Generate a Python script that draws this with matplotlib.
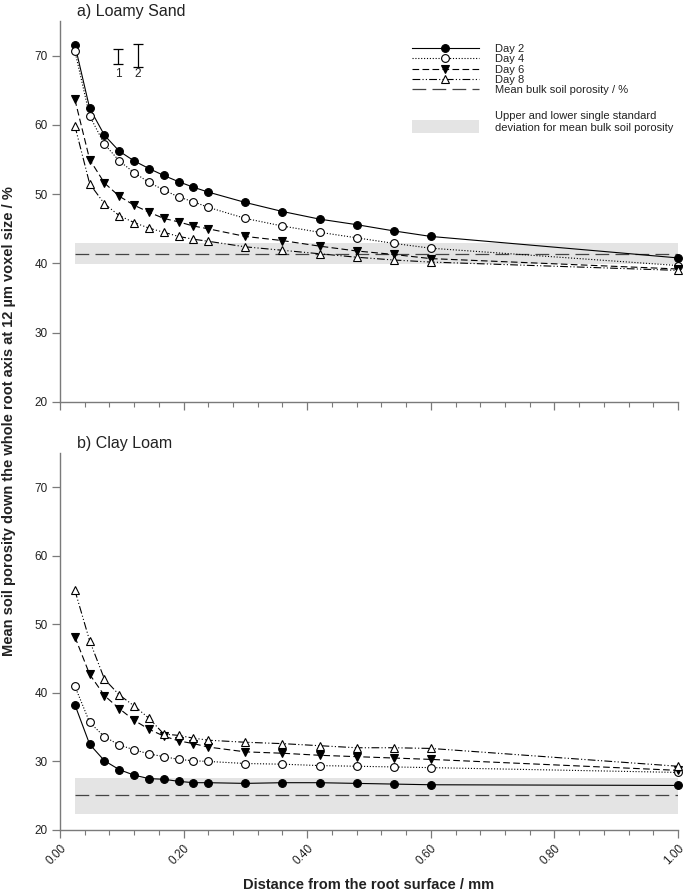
import matplotlib
matplotlib.use("Agg")
import matplotlib.pyplot as plt
from matplotlib.lines import Line2D
from matplotlib.patches import Patch, Rectangle
from matplotlib.legend_handler import HandlerPatch
import numpy as np

plt.rcParams['font.family'] = ['Liberation Sans', 'DejaVu Sans']

# distance from root surface (mm)
dist = [0.024, 0.048, 0.072, 0.096, 0.12, 0.144, 0.168, 0.192, 0.216, 0.24,
        0.30, 0.36, 0.42, 0.48, 0.54, 0.60, 1.00]

# a) Loamy Sand
ls_day2 = [71.6, 62.4, 58.5, 56.2, 54.8, 53.7, 52.7, 51.8, 51.0, 50.3, 48.8, 47.5, 46.4, 45.6, 44.7, 43.9, 40.8]
ls_day4 = [70.7, 61.3, 57.2, 54.8, 53.1, 51.7, 50.6, 49.6, 48.9, 48.1, 46.5, 45.4, 44.5, 43.7, 42.9, 42.2, 39.7]
ls_day6 = [63.7, 55.0, 51.6, 49.7, 48.4, 47.4, 46.5, 46.0, 45.4, 45.0, 43.9, 43.3, 42.5, 41.8, 41.3, 40.7, 39.2]
ls_day8 = [59.9, 51.5, 48.6, 46.9, 45.9, 45.1, 44.5, 43.9, 43.5, 43.2, 42.4, 41.9, 41.4, 40.9, 40.5, 40.2, 39.0]
ls_bulk_mean = 41.4
ls_bulk_sd = [39.9, 43.0]

# b) Clay Loam
cl_day2 = [38.3, 32.5, 30.1, 28.8, 28.0, 27.5, 27.4, 27.1, 26.9, 26.9, 26.8, 26.9, 26.9, 26.8, 26.7, 26.6, 26.5]
cl_day4 = [41.0, 35.7, 33.6, 32.4, 31.7, 31.1, 30.7, 30.3, 30.1, 30.0, 29.7, 29.6, 29.4, 29.3, 29.2, 29.1, 28.4]
cl_day6 = [48.2, 42.7, 39.6, 37.7, 36.0, 34.7, 33.7, 33.0, 32.6, 32.1, 31.4, 31.2, 30.9, 30.7, 30.5, 30.3, 28.7]
cl_day8 = [55.0, 47.6, 42.0, 39.7, 38.1, 36.3, 34.0, 33.8, 33.4, 33.1, 32.8, 32.6, 32.3, 32.0, 32.0, 31.9, 29.3]
cl_bulk_mean = 25.1
cl_bulk_sd = [22.3, 27.6]

# the two bars in the top-left corner (labelled 1 and 2)
bar_labels = ['1', '2']
bar_x = [0.094, 0.126]
bar_mid = [69.9, 70.0]
bar_half = [1.1, 1.7]

day_labels = ['Day 2', 'Day 4', 'Day 6', 'Day 8']

# line styles for each day
styles = [
    dict(ls='-', marker='o', mfc='black'),
    dict(ls=(0, (1, 1.6)), marker='o', mfc='white'),
    dict(ls=(0, (6, 3)), marker='v', mfc='black'),
    dict(ls=(0, (7, 2, 1, 2, 1, 2)), marker='^', mfc='white'),
]
mean_style = dict(color='#444444', lw=0.9, ls=(0, (11, 5)))
band_color = '#e4e4e4'
spine_color = '#7a7a7a'
text_color = '#222222'

fig = plt.figure(figsize=(6.85, 8.94), dpi=100)
ax1 = fig.add_axes([60/685, 1-402/894, 618/685, 381/894])
ax2 = fig.add_axes([60/685, 1-830/894, 618/685, 377/894])


def marker_size(st):
    return 6.2 if st['marker'] in ('v', '^') else 5.6


def draw_panel(ax, series, bulk_mean, bulk_sd, title):
    ax.fill_between([dist[0], dist[-1]], bulk_sd[0], bulk_sd[1], color=band_color, lw=0, zorder=1)
    ax.plot([dist[0], dist[-1]], [bulk_mean, bulk_mean], zorder=2, **mean_style)
    for vals, st in zip(series, styles):
        ax.plot(dist, vals, color='black', lw=0.8, ls=st['ls'], marker=st['marker'],
                ms=marker_size(st), mfc=st['mfc'], mec='black', mew=0.8, clip_on=False, zorder=3)

    ax.set_xlim(0, 1.0)
    ax.set_ylim(20, 75)
    ax.set_yticks(np.arange(20, 71, 10))
    ax.set_xticks(np.arange(0, 1.01, 0.2))
    ax.set_xticks(np.arange(0, 1.001, 0.04), minor=True)
    for s in ['top', 'right']:
        ax.spines[s].set_visible(False)
    for s in ['left', 'bottom']:
        ax.spines[s].set_color(spine_color)
        ax.spines[s].set_linewidth(1.0)
    ax.tick_params(axis='both', which='major', direction='out', length=6, width=0.9,
                   color=spine_color, labelsize=8.5, labelcolor=text_color, pad=3)
    ax.tick_params(axis='x', which='minor', direction='out', length=3.5, width=0.8, color=spine_color)
    ax.tick_params(axis='y', which='minor', left=False)
    ax.text(0.028, 1.005, title, transform=ax.transAxes, fontsize=11.5,
            color=text_color, ha='left', va='bottom')


draw_panel(ax1, [ls_day2, ls_day4, ls_day6, ls_day8], ls_bulk_mean, ls_bulk_sd, 'a) Loamy Sand')
draw_panel(ax2, [cl_day2, cl_day4, cl_day6, cl_day8], cl_bulk_mean, cl_bulk_sd, 'b) Clay Loam')

ax1.set_xticklabels([])
ax2.set_xticklabels(['%.2f' % v for v in np.arange(0, 1.01, 0.2)], rotation=45,
                    ha='right', rotation_mode='anchor')

# bars 1 and 2
ax1.errorbar(bar_x, bar_mid, yerr=bar_half, fmt='none', ecolor='black',
             elinewidth=0.9, capsize=3.5, capthick=0.9)
for bx, lab in zip(bar_x, bar_labels):
    ax1.text(bx, 67.3, lab, ha='center', va='center', fontsize=8.5, color=text_color)

# legend
handles = []
for st in styles:
    handles.append(Line2D([], [], color='black', lw=0.8, ls=st['ls'], marker=st['marker'],
                          ms=marker_size(st), mfc=st['mfc'], mec='black', mew=0.8))
handles.append(Line2D([], [], **mean_style))
leg1 = ax1.legend(handles, day_labels + ['Mean bulk soil porosity / %'],
                  loc='upper left', bbox_to_anchor=(412/685, 1-44/894),
                  bbox_transform=fig.transFigure, frameon=False, fontsize=8,
                  numpoints=1, handlelength=6.0, handletextpad=1.5,
                  labelspacing=0.03, borderpad=0, borderaxespad=0)
for t in leg1.get_texts():
    t.set_color(text_color)
ax1.add_artist(leg1)


def low_band(legend, orig_handle, xdescent, ydescent, width, height, fontsize):
    return Rectangle((-xdescent, -ydescent - 0.3 * height), width, height)


leg2 = ax1.legend([Patch(facecolor=band_color, edgecolor='none')],
                  ['Upper and lower single standard\ndeviation for mean bulk soil porosity'],
                  loc='upper left', bbox_to_anchor=(412/685, 1-111/894),
                  bbox_transform=fig.transFigure, frameon=False, fontsize=8,
                  handlelength=6.0, handleheight=1.4, handletextpad=1.5,
                  borderpad=0, borderaxespad=0,
                  handler_map={Patch: HandlerPatch(patch_func=low_band)})
for t in leg2.get_texts():
    t.set_color(text_color)
    t.set_linespacing(1.3)

fig.text(369/685, 1-885/894, 'Distance from the root surface / mm', ha='center', va='center',
         fontsize=10.5, fontweight='bold', color=text_color)
fig.text(9/685, 1-421/894, 'Mean soil porosity down the whole root axis at 12 \u00b5m voxel size / %',
         ha='center', va='center', rotation=90, fontsize=10.5, fontweight='bold', color=text_color)

fig.savefig('out.png', dpi=100)
